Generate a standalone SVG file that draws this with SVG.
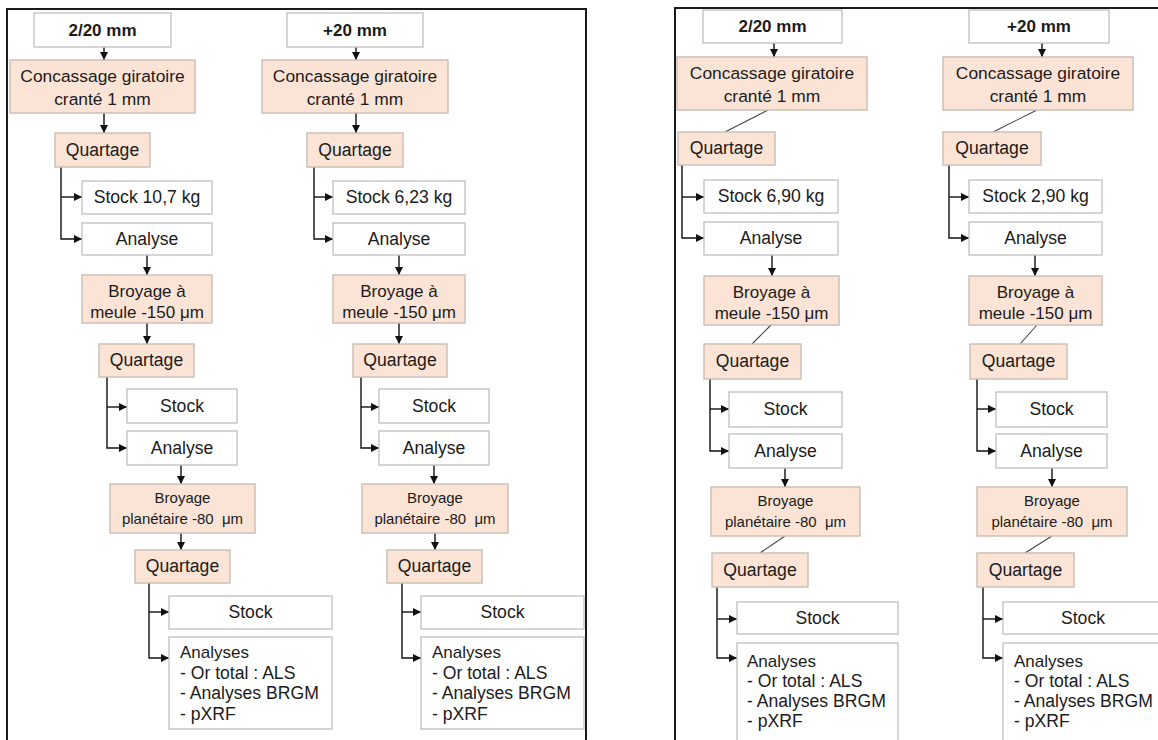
<svg xmlns="http://www.w3.org/2000/svg" width="1158" height="740" viewBox="0 0 1158 740">
  <defs>
    <marker id="ah" markerWidth="9" markerHeight="9" refX="8" refY="4.5" orient="auto" markerUnits="userSpaceOnUse">
      <path d="M0,0.5 L8,4.5 L0,8.5 z" fill="#111"/>
    </marker>
  </defs>
  <style>
    .frame { fill: #fff; stroke: #1a1a1a; stroke-width: 2; }
    .w { fill: #fff; stroke: #c4c4c4; stroke-width: 1.4; }
    .p { fill: #fbe4d5; stroke: #c9bdb4; stroke-width: 1.4; }
    text { font-family: "Liberation Sans", Arial, sans-serif; font-size: 17.6px; fill: #1b1b1b; text-anchor: middle; }
    .b { font-weight: bold; font-size: 17px; }
    .c16 { font-size: 17.4px; }
    .m17 { font-size: 17px; }
    .s15 { font-size: 15px; }
    .l { text-anchor: start; font-size: 17.6px; }
    .l1 { text-anchor: start; font-size: 17px; }
    .ln { fill: none; stroke: #111; stroke-width: 1.4; }
    .dg { fill: none; stroke: #444; stroke-width: 1.1; }
  </style>

  <rect width="1158" height="740" fill="#fff"/>

  <!-- panel frames -->
  <rect class="frame" x="7" y="9" width="579" height="760"/>
  <rect class="frame" x="675" y="8" width="520" height="760"/>

  <!-- connectors -->
  <g id="connectors">
    <!-- left panel, column 1 -->
    <line class="ln" x1="104" y1="47" x2="104" y2="60" marker-end="url(#ah)"/>
    <line class="ln" x1="104" y1="113" x2="104" y2="133" marker-end="url(#ah)"/>
    <path class="ln" d="M61,167 V239 H82" marker-end="url(#ah)"/>
    <path class="ln" d="M61,197 H82" marker-end="url(#ah)"/>
    <line class="ln" x1="147" y1="255" x2="147" y2="275" marker-end="url(#ah)"/>
    <line class="ln" x1="147" y1="323" x2="147" y2="344" marker-end="url(#ah)"/>
    <path class="ln" d="M107,377 V448 H127" marker-end="url(#ah)"/>
    <path class="ln" d="M107,407 H127" marker-end="url(#ah)"/>
    <line class="ln" x1="181" y1="465" x2="181" y2="484" marker-end="url(#ah)"/>
    <line class="ln" x1="181" y1="533" x2="181" y2="550" marker-end="url(#ah)"/>
    <path class="ln" d="M149,583 V658 H169" marker-end="url(#ah)"/>
    <path class="ln" d="M149,612 H169" marker-end="url(#ah)"/>

    <!-- left panel, column 2 -->
    <line class="ln" x1="356" y1="47" x2="356" y2="60" marker-end="url(#ah)"/>
    <line class="ln" x1="356" y1="113" x2="356" y2="133" marker-end="url(#ah)"/>
    <path class="ln" d="M314,167 V239 H333" marker-end="url(#ah)"/>
    <path class="ln" d="M314,197 H333" marker-end="url(#ah)"/>
    <line class="ln" x1="399" y1="255" x2="399" y2="275" marker-end="url(#ah)"/>
    <line class="ln" x1="399" y1="323" x2="399" y2="344" marker-end="url(#ah)"/>
    <path class="ln" d="M361,377 V448 H379" marker-end="url(#ah)"/>
    <path class="ln" d="M361,407 H379" marker-end="url(#ah)"/>
    <line class="ln" x1="434" y1="465" x2="434" y2="484" marker-end="url(#ah)"/>
    <line class="ln" x1="435" y1="533" x2="435" y2="550" marker-end="url(#ah)"/>
    <path class="ln" d="M402,583 V658 H421" marker-end="url(#ah)"/>
    <path class="ln" d="M402,612 H421" marker-end="url(#ah)"/>

    <!-- right panel, column 1 -->
    <line class="ln" x1="774" y1="43" x2="774" y2="57" marker-end="url(#ah)"/>
    <line class="dg" x1="768" y1="110" x2="725" y2="132"/>
    <path class="ln" d="M682,165 V238 H704" marker-end="url(#ah)"/>
    <path class="ln" d="M682,197 H704" marker-end="url(#ah)"/>
    <line class="ln" x1="772" y1="255" x2="772" y2="276" marker-end="url(#ah)"/>
    <line class="dg" x1="771" y1="325" x2="752" y2="344"/>
    <path class="ln" d="M710,379 V451 H729" marker-end="url(#ah)"/>
    <path class="ln" d="M710,409 H729" marker-end="url(#ah)"/>
    <line class="ln" x1="785" y1="468" x2="785" y2="487" marker-end="url(#ah)"/>
    <line class="dg" x1="785" y1="536" x2="760" y2="553"/>
    <path class="ln" d="M717,587 V658 H737" marker-end="url(#ah)"/>
    <path class="ln" d="M717,619 H737" marker-end="url(#ah)"/>

    <!-- right panel, column 2 -->
    <line class="ln" x1="1042" y1="43" x2="1042" y2="57" marker-end="url(#ah)"/>
    <line class="dg" x1="1037" y1="110" x2="993" y2="132"/>
    <path class="ln" d="M949,165 V238 H969" marker-end="url(#ah)"/>
    <path class="ln" d="M949,197 H969" marker-end="url(#ah)"/>
    <line class="ln" x1="1035" y1="255" x2="1035" y2="276" marker-end="url(#ah)"/>
    <line class="dg" x1="1037" y1="325" x2="1020" y2="344"/>
    <path class="ln" d="M977,379 V451 H996" marker-end="url(#ah)"/>
    <path class="ln" d="M977,409 H996" marker-end="url(#ah)"/>
    <line class="ln" x1="1052" y1="468" x2="1052" y2="487" marker-end="url(#ah)"/>
    <line class="dg" x1="1052" y1="536" x2="1025" y2="553"/>
    <path class="ln" d="M983,587 V658 H1003" marker-end="url(#ah)"/>
    <path class="ln" d="M983,619 H1003" marker-end="url(#ah)"/>
  </g>

  <!-- ===== left panel, column 1 : 2/20 mm ===== -->
  <g id="L1-hdr"><rect class="w" x="34" y="13" width="137" height="34"/><text class="b" x="102.5" y="36">2/20 mm</text></g>
  <g id="L1-conc"><rect class="p" x="10" y="60" width="185" height="53"/><text class="c16" x="102.5" y="82">Concassage giratoire</text><text class="c16" x="102.5" y="105">cranté 1 mm</text></g>
  <g id="L1-q1"><rect class="p" x="55" y="133" width="95" height="34"/><text x="102.5" y="156">Quartage</text></g>
  <g id="L1-stock1"><rect class="w" x="82" y="181" width="130" height="33"/><text x="147" y="203">Stock 10,7 kg</text></g>
  <g id="L1-an1"><rect class="w" x="82" y="223" width="130" height="32"/><text x="147" y="245">Analyse</text></g>
  <g id="L1-bm"><rect class="p" x="82" y="275" width="130" height="48"/><text class="m17" x="147" y="297">Broyage à</text><text class="m17" x="147" y="318">meule -150 μm</text></g>
  <g id="L1-q2"><rect class="p" x="99" y="344" width="95" height="33"/><text x="146.5" y="366">Quartage</text></g>
  <g id="L1-stock2"><rect class="w" x="127" y="389" width="110" height="34"/><text x="182" y="412">Stock</text></g>
  <g id="L1-an2"><rect class="w" x="127" y="431" width="110" height="34"/><text x="182" y="454">Analyse</text></g>
  <g id="L1-bp"><rect class="p" x="110" y="484" width="145" height="49"/><text class="s15" x="182.5" y="503">Broyage</text><text class="s15" x="182.5" y="524" xml:space="preserve">planétaire -80  μm</text></g>
  <g id="L1-q3"><rect class="p" x="135" y="550" width="95" height="33"/><text x="182.5" y="572">Quartage</text></g>
  <g id="L1-stock3"><rect class="w" x="169" y="596" width="163" height="33"/><text x="250.5" y="618">Stock</text></g>
  <g id="L1-an3"><rect class="w" x="169" y="637" width="163" height="92"/>
    <text class="l1" x="180" y="658">Analyses</text>
    <text class="l" x="180" y="679">- Or total : ALS</text>
    <text class="l" x="180" y="699">- Analyses BRGM</text>
    <text class="l" x="180" y="720">- pXRF</text></g>

  <!-- ===== left panel, column 2 : +20 mm ===== -->
  <g id="L2-hdr"><rect class="w" x="287" y="13" width="136" height="34"/><text class="b" x="355" y="36">+20 mm</text></g>
  <g id="L2-conc"><rect class="p" x="262" y="60" width="186" height="53"/><text class="c16" x="355" y="82">Concassage giratoire</text><text class="c16" x="355" y="105">cranté 1 mm</text></g>
  <g id="L2-q1"><rect class="p" x="307" y="133" width="96" height="34"/><text x="355" y="156">Quartage</text></g>
  <g id="L2-stock1"><rect class="w" x="333" y="181" width="132" height="33"/><text x="399" y="203">Stock 6,23 kg</text></g>
  <g id="L2-an1"><rect class="w" x="333" y="223" width="132" height="32"/><text x="399" y="245">Analyse</text></g>
  <g id="L2-bm"><rect class="p" x="333" y="275" width="132" height="48"/><text class="m17" x="399" y="297">Broyage à</text><text class="m17" x="399" y="318">meule -150 μm</text></g>
  <g id="L2-q2"><rect class="p" x="353" y="344" width="94" height="33"/><text x="400" y="366">Quartage</text></g>
  <g id="L2-stock2"><rect class="w" x="379" y="389" width="110" height="34"/><text x="434" y="412">Stock</text></g>
  <g id="L2-an2"><rect class="w" x="379" y="431" width="110" height="34"/><text x="434" y="454">Analyse</text></g>
  <g id="L2-bp"><rect class="p" x="362" y="484" width="146" height="49"/><text class="s15" x="435" y="503">Broyage</text><text class="s15" x="435" y="524" xml:space="preserve">planétaire -80  μm</text></g>
  <g id="L2-q3"><rect class="p" x="387" y="550" width="95" height="33"/><text x="434.5" y="572">Quartage</text></g>
  <g id="L2-stock3"><rect class="w" x="421" y="596" width="163" height="33"/><text x="502.5" y="618">Stock</text></g>
  <g id="L2-an3"><rect class="w" x="421" y="637" width="163" height="92"/>
    <text class="l1" x="432" y="658">Analyses</text>
    <text class="l" x="432" y="679">- Or total : ALS</text>
    <text class="l" x="432" y="699">- Analyses BRGM</text>
    <text class="l" x="432" y="720">- pXRF</text></g>

  <!-- ===== right panel, column 1 : 2/20 mm ===== -->
  <g id="R1-hdr"><rect class="w" x="703" y="10" width="139" height="33"/><text class="b" x="772.5" y="32">2/20 mm</text></g>
  <g id="R1-conc"><rect class="p" x="677" y="57" width="190" height="53"/><text class="c16" x="772" y="79">Concassage giratoire</text><text class="c16" x="772" y="102">cranté 1 mm</text></g>
  <g id="R1-q1"><rect class="p" x="678" y="132" width="97" height="33"/><text x="726.5" y="154">Quartage</text></g>
  <g id="R1-stock1"><rect class="w" x="704" y="180" width="134" height="33"/><text x="771" y="202">Stock 6,90 kg</text></g>
  <g id="R1-an1"><rect class="w" x="704" y="222" width="134" height="33"/><text x="771" y="244">Analyse</text></g>
  <g id="R1-bm"><rect class="p" x="704" y="276" width="135" height="49"/><text class="m17" x="771.5" y="298">Broyage à</text><text class="m17" x="771.5" y="319">meule -150 μm</text></g>
  <g id="R1-q2"><rect class="p" x="704" y="344" width="97" height="35"/><text x="752.5" y="367">Quartage</text></g>
  <g id="R1-stock2"><rect class="w" x="729" y="392" width="113" height="35"/><text x="785.5" y="415">Stock</text></g>
  <g id="R1-an2"><rect class="w" x="729" y="434" width="113" height="34"/><text x="785.5" y="457">Analyse</text></g>
  <g id="R1-bp"><rect class="p" x="711" y="487" width="149" height="49"/><text class="s15" x="785.5" y="506">Broyage</text><text class="s15" x="785.5" y="527" xml:space="preserve">planétaire -80  μm</text></g>
  <g id="R1-q3"><rect class="p" x="712" y="553" width="96" height="34"/><text x="760" y="576">Quartage</text></g>
  <g id="R1-stock3"><rect class="w" x="737" y="602" width="161" height="32"/><text x="817.5" y="624">Stock</text></g>
  <g id="R1-an3"><rect class="w" x="737" y="643" width="161" height="110"/>
    <text class="l1" x="747" y="667">Analyses</text>
    <text class="l" x="747" y="687">- Or total : ALS</text>
    <text class="l" x="747" y="707">- Analyses BRGM</text>
    <text class="l" x="747" y="727">- pXRF</text></g>

  <!-- ===== right panel, column 2 : +20 mm ===== -->
  <g id="R2-hdr"><rect class="w" x="969" y="10" width="140" height="33"/><text class="b" x="1039" y="32">+20 mm</text></g>
  <g id="R2-conc"><rect class="p" x="943" y="57" width="190" height="53"/><text class="c16" x="1038" y="79">Concassage giratoire</text><text class="c16" x="1038" y="102">cranté 1 mm</text></g>
  <g id="R2-q1"><rect class="p" x="943" y="132" width="98" height="33"/><text x="992" y="154">Quartage</text></g>
  <g id="R2-stock1"><rect class="w" x="969" y="180" width="133" height="33"/><text x="1035.5" y="202">Stock 2,90 kg</text></g>
  <g id="R2-an1"><rect class="w" x="969" y="222" width="133" height="33"/><text x="1035.5" y="244">Analyse</text></g>
  <g id="R2-bm"><rect class="p" x="969" y="276" width="133" height="49"/><text class="m17" x="1035.5" y="298">Broyage à</text><text class="m17" x="1035.5" y="319">meule -150 μm</text></g>
  <g id="R2-q2"><rect class="p" x="970" y="344" width="97" height="35"/><text x="1018.5" y="367">Quartage</text></g>
  <g id="R2-stock2"><rect class="w" x="996" y="392" width="111" height="35"/><text x="1051.5" y="415">Stock</text></g>
  <g id="R2-an2"><rect class="w" x="996" y="434" width="111" height="34"/><text x="1051.5" y="457">Analyse</text></g>
  <g id="R2-bp"><rect class="p" x="977" y="487" width="150" height="49"/><text class="s15" x="1052" y="506">Broyage</text><text class="s15" x="1052" y="527" xml:space="preserve">planétaire -80  μm</text></g>
  <g id="R2-q3"><rect class="p" x="977" y="553" width="97" height="34"/><text x="1025.5" y="576">Quartage</text></g>
  <g id="R2-stock3"><rect class="w" x="1003" y="602" width="161" height="32"/><text x="1083" y="624">Stock</text></g>
  <g id="R2-an3"><rect class="w" x="1003" y="643" width="161" height="110"/>
    <text class="l1" x="1014" y="667">Analyses</text>
    <text class="l" x="1014" y="687">- Or total : ALS</text>
    <text class="l" x="1014" y="707">- Analyses BRGM</text>
    <text class="l" x="1014" y="727">- pXRF</text></g>
</svg>
